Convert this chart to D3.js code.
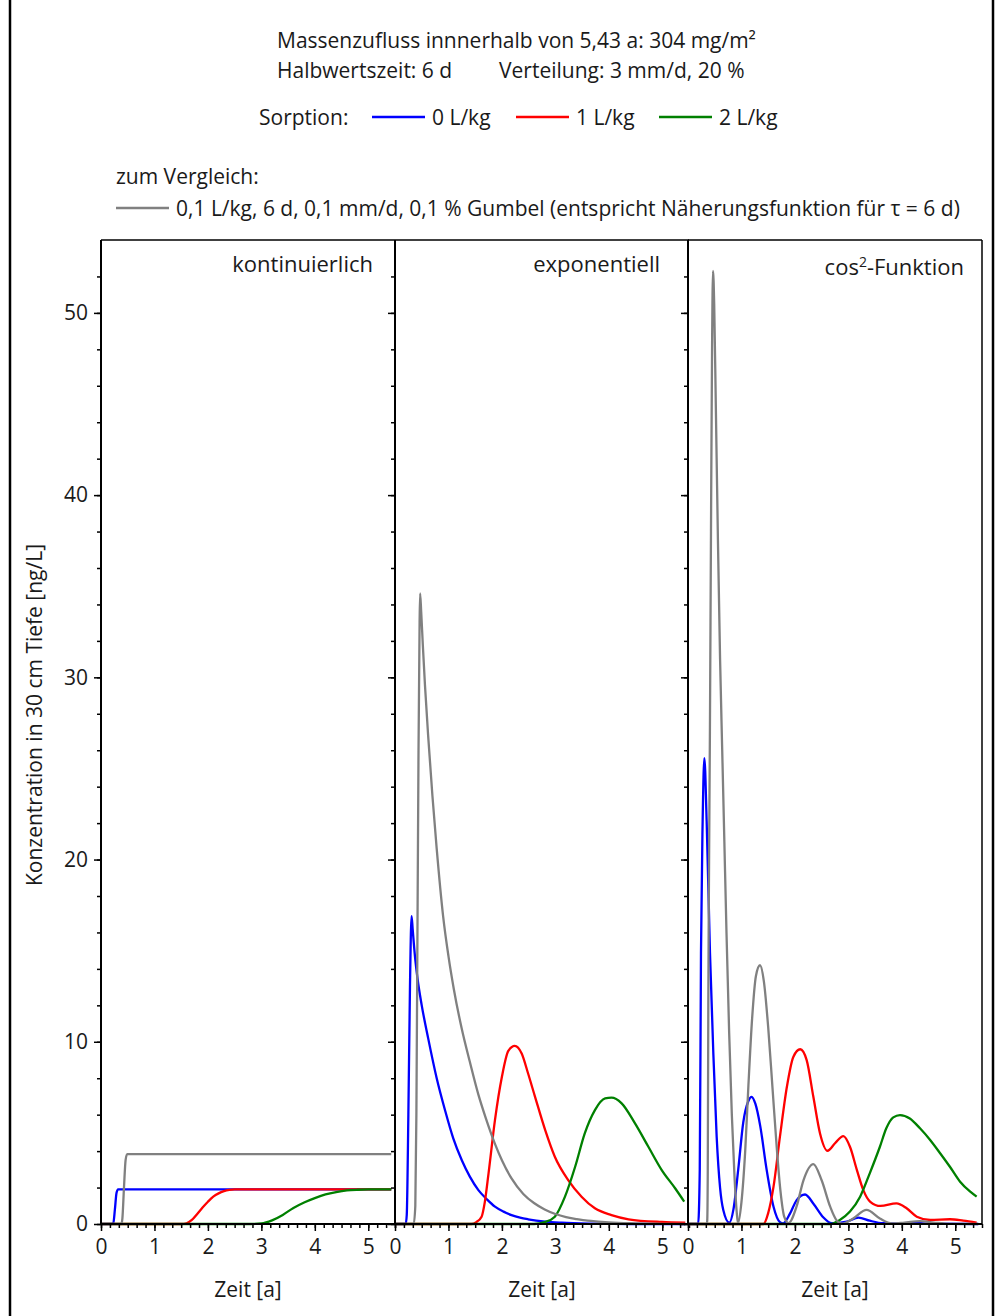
<!DOCTYPE html>
<html>
<head>
<meta charset="utf-8">
<script src="https://cdn.jsdelivr.net/npm/d3@7"></script>
<style>
  body { margin: 0; background: #fff; }
  svg text { font-family: "Open Sans", "Noto Sans", sans-serif; fill: #1a1a1a; }
</style>
</head>
<body>
<div id="chart"></div>
<script>
// Achsen
const xTicks = [0, 1, 2, 3, 4, 5];
const yTicks = [0, 10, 20, 30, 40, 50];
const panelTitles = ["kontinuierlich", "exponentiell", "cos²-Funktion"];
const legendLabels = ["0 L/kg", "1 L/kg", "2 L/kg"];

// kontinuierlich: [Zeit a, Konzentration ng/L]
const kontBlue = [[0, 0], [0.2, 0], [0.23, 0.05], [0.26, 0.8], [0.29, 1.7], [0.32, 1.9], [5.43, 1.9]];
const kontRed = [[0, 0], [1.5, 0], [1.6, 0.04], [1.7, 0.22], [1.8, 0.55], [1.9, 0.9], [2.0, 1.22], [2.1, 1.5],
  [2.2, 1.68], [2.3, 1.8], [2.4, 1.87], [2.5, 1.9], [5.43, 1.9]];
const kontGreen = [[0, 0], [2.8, 0], [3.0, 0.03], [3.2, 0.2], [3.4, 0.5], [3.6, 0.88], [3.8, 1.18], [4.0, 1.42],
  [4.2, 1.62], [4.4, 1.75], [4.6, 1.84], [4.8, 1.88], [5.0, 1.9], [5.43, 1.9]];
const kontGray = [[0, 0], [0.38, 0], [0.4, 0.3], [0.43, 2.0], [0.46, 3.5], [0.49, 3.84], [5.43, 3.84]];

// exponentiell
const expBlue = [[0, 0], [0.2, 0], [0.22, 0.5], [0.25, 6], [0.28, 13], [0.31, 16.9], [0.33, 16.2], [0.37, 14.8],
  [0.42, 13.5], [0.5, 12.0], [0.62, 10.2], [0.78, 8.0], [0.94, 6.2], [1.09, 4.7], [1.25, 3.5], [1.4, 2.6],
  [1.56, 1.86], [1.72, 1.35], [1.87, 0.95], [2.03, 0.68], [2.18, 0.49], [2.34, 0.35], [2.49, 0.26], [2.81, 0.13],
  [3.12, 0.07], [3.74, 0.02], [4.4, 0], [5.43, 0]];
const expRed = [[0, 0], [1.43, 0], [1.52, 0.1], [1.62, 0.4], [1.68, 1.2], [1.75, 2.78], [1.87, 5.7], [2.0, 8.08],
  [2.12, 9.5], [2.24, 9.78], [2.37, 9.36], [2.49, 8.26], [2.62, 6.98], [2.81, 5.15], [2.99, 3.69], [3.24, 2.41],
  [3.49, 1.5], [3.74, 0.86], [4.05, 0.49], [4.37, 0.26], [4.99, 0.11], [5.43, 0.07]];
const expGreen = [[0, 0], [2.6, 0], [2.8, 0.1], [2.99, 0.4], [3.18, 1.5], [3.37, 3.14], [3.55, 4.97], [3.74, 6.25],
  [3.93, 6.89], [4.05, 6.93], [4.24, 6.62], [4.49, 5.52], [4.74, 4.24], [4.99, 2.96], [5.24, 1.96], [5.41, 1.23]];
const expGray = [[0, 0], [0.35, 0], [0.38, 1], [0.4, 6], [0.42, 16], [0.44, 26], [0.46, 33], [0.47, 34.6],
  [0.49, 33.6], [0.52, 31.8], [0.56, 29.6], [0.62, 26.8], [0.7, 23.5], [0.78, 20.6], [0.9, 16.9], [1.0, 14.7],
  [1.1, 12.9], [1.25, 10.7], [1.4, 8.9], [1.56, 7.1], [1.7, 5.8], [1.87, 4.4], [2.0, 3.5], [2.18, 2.5],
  [2.4, 1.65], [2.6, 1.15], [2.8, 0.8], [3.0, 0.55], [3.2, 0.38], [3.4, 0.27], [3.6, 0.18], [3.8, 0.13],
  [4.0, 0.09], [4.4, 0.04], [5.0, 0.01], [5.43, 0]];

// cos²-Funktion
const cosBlue = [[0, 0], [0.19, 0], [0.22, 3], [0.243, 14.9], [0.274, 22.1], [0.306, 25.57], [0.349, 22.1],
  [0.411, 14.9], [0.474, 9.36], [0.536, 4.8], [0.6, 1.99], [0.66, 0.77], [0.773, 0.07], [0.85, 0.8], [0.94, 3.0],
  [1.035, 5.6], [1.13, 6.75], [1.19, 6.98], [1.26, 6.6], [1.35, 5.4], [1.47, 3.0], [1.6, 0.95], [1.72, 0.1],
  [1.78, 0.03], [1.91, 0.58], [2.03, 1.3], [2.19, 1.62], [2.35, 1.1], [2.53, 0.37], [2.69, 0.04], [2.97, 0.13],
  [3.19, 0.35], [3.4, 0.18], [3.65, 0.04], [3.9, 0.02], [4.2, 0.08], [4.5, 0.02], [5.43, 0]];
const cosRed = [[0, 0], [1.41, 0], [1.5, 0.6], [1.6, 2.05], [1.72, 4.79], [1.85, 7.53], [1.97, 9.17], [2.1, 9.59],
  [2.22, 8.99], [2.345, 6.98], [2.47, 4.97], [2.61, 4.02], [2.75, 4.43], [2.906, 4.82], [3.03, 4.24], [3.16, 2.96],
  [3.28, 1.86], [3.41, 1.22], [3.6, 0.99], [3.9, 1.13], [4.09, 0.86], [4.28, 0.4], [4.53, 0.22], [4.9, 0.26],
  [5.15, 0.18], [5.4, 0.07]];
const cosGreen = [[0, 0], [2.66, 0], [2.84, 0.22], [3.03, 0.68], [3.22, 1.5], [3.4, 2.78], [3.59, 4.24], [3.71, 5.25],
  [3.84, 5.85], [3.966, 5.98], [4.15, 5.79], [4.34, 5.25], [4.53, 4.61], [4.72, 3.87], [4.9, 3.14], [5.09, 2.32],
  [5.28, 1.77], [5.4, 1.5]];
const cosGray = [[0, 0], [0.35, 0], [0.36, 0.2], [0.37, 3], [0.38, 12], [0.39, 18], [0.41, 27], [0.43, 38],
  [0.45, 48], [0.468, 52.3], [0.49, 50.5], [0.52, 45], [0.56, 37.5], [0.6, 31], [0.64, 26], [0.68, 21], [0.72, 16],
  [0.77, 10.5], [0.82, 6], [0.87, 2.6], [0.91, 0.7], [0.935, 0.05], [1.0, 1.2], [1.07, 4.0], [1.13, 7.6],
  [1.2, 11.3], [1.27, 13.6], [1.347, 14.2], [1.42, 13.3], [1.5, 10.8], [1.58, 7.5], [1.66, 4.2], [1.73, 1.8],
  [1.8, 0.4], [1.88, 0.05], [2.03, 0.95], [2.16, 2.4], [2.345, 3.29], [2.5, 2.4], [2.66, 0.95], [2.78, 0.2],
  [2.88, 0.02], [3.09, 0.3], [3.34, 0.77], [3.59, 0.3], [3.81, 0.03], [4.05, 0.08], [4.34, 0.16], [4.6, 0.08],
  [4.9, 0.01], [5.43, 0]];

const panels = [
  { title: panelTitles[0], series: [kontBlue, kontRed, kontGreen, kontGray] },
  { title: panelTitles[1], series: [expBlue, expRed, expGreen, expGray] },
  { title: panelTitles[2], series: [cosBlue, cosRed, cosGreen, cosGray] }
];
const colors = ["#0000ff", "#ff0000", "#008000", "#808080"];

const width = 1004, height = 1316;
const svg = d3.select("#chart").append("svg")
  .attr("width", width)
  .attr("height", height);

// Rahmen
svg.append("rect")
  .attr("x", 10).attr("y", -2)
  .attr("width", 983).attr("height", height + 4)
  .attr("fill", "none").attr("stroke", "#000").attr("stroke-width", 2.5);

// Kopfzeilen
const head = svg.append("g").style("font-size", "21px");
head.append("text").attr("x", 277).attr("y", 48).text("Massenzufluss innnerhalb von 5,43 a: 304 mg/m²");
head.append("text").attr("x", 277).attr("y", 78).text("Halbwertszeit: 6 d");
head.append("text").attr("x", 499).attr("y", 78).text("Verteilung: 3 mm/d, 20 %");
head.append("text").attr("x", 259).attr("y", 125).text("Sorption:");

const legendX = [372, 516, 659];
legendLabels.forEach((lab, i) => {
  head.append("line")
    .attr("x1", legendX[i]).attr("x2", legendX[i] + 53)
    .attr("y1", 117).attr("y2", 117)
    .attr("stroke", colors[i]).attr("stroke-width", 2.3);
  head.append("text").attr("x", legendX[i] + 60).attr("y", 125).text(lab);
});

head.append("text").attr("x", 116).attr("y", 184).text("zum Vergleich:");
head.append("line")
  .attr("x1", 116).attr("x2", 169).attr("y1", 208).attr("y2", 208)
  .attr("stroke", colors[3]).attr("stroke-width", 2.3);
head.append("text").attr("x", 176).attr("y", 216)
  .text("0,1 L/kg, 6 d, 0,1 mm/d, 0,1 % Gumbel (entspricht Näherungsfunktion für τ = 6 d)");

// Diagramme
const panelLeft = [101, 395, 688];
const titleRight = [373, 660, 964];
const panelW = 294;
const plotTop = 240, plotBottom = 1224;

const y = d3.scaleLinear().domain([0, 54]).range([plotBottom, plotTop]);

panels.forEach((p, i) => {
  const x = d3.scaleLinear().domain([0, 5.5]).range([panelLeft[i], panelLeft[i] + panelW]);
  const g = svg.append("g");

  // Linien
  const line = d3.line()
    .x(d => x(d[0]))
    .y(d => y(d[1]))
    .curve(d3.curveMonotoneX);

  p.series.forEach((s, k) => {
    g.append("path")
      .datum(s)
      .attr("d", line)
      .attr("fill", "none")
      .attr("stroke", colors[k])
      .attr("stroke-width", 2.3)
      .attr("stroke-linejoin", "round");
  });

  // y-Achse
  const yMajor = d3.axisLeft(y).tickValues(yTicks).tickSize(7).tickPadding(6)
    .tickFormat(i === 0 ? d3.format("d") : "");
  const yMinor = d3.axisLeft(y).tickValues(d3.range(0, 54, 2)).tickSize(4).tickFormat("");
  [yMinor, yMajor].forEach(ax => {
    const a = g.append("g").attr("transform", `translate(${panelLeft[i]},0)`).call(ax);
    a.select(".domain").remove();
    a.selectAll("line").attr("stroke", "#000").attr("stroke-width", 1.5);
    a.selectAll("text").style("font-size", "21px").attr("font-family", null).attr("fill", "#1a1a1a");
  });

  // x-Achse
  const xMajor = d3.axisBottom(x).tickValues(xTicks).tickSize(7).tickPadding(8).tickFormat(d3.format("d"));
  const xMinor = d3.axisBottom(x).tickValues(d3.range(0, 34).map(k => k / 6)).tickSize(4).tickFormat("");
  [xMinor, xMajor].forEach(ax => {
    const a = g.append("g").attr("transform", `translate(0,${plotBottom})`).call(ax);
    a.select(".domain").remove();
    a.selectAll("line").attr("stroke", "#000").attr("stroke-width", 1.5);
    a.selectAll("text").style("font-size", "21px").attr("font-family", null).attr("fill", "#1a1a1a");
  });

  // Rahmenlinien
  g.append("line")
    .attr("x1", panelLeft[i]).attr("x2", panelLeft[i])
    .attr("y1", plotTop).attr("y2", plotBottom)
    .attr("stroke", "#000").attr("stroke-width", 2);
  g.append("line")
    .attr("x1", panelLeft[i]).attr("x2", panelLeft[i] + panelW)
    .attr("y1", plotTop).attr("y2", plotTop)
    .attr("stroke", "#000").attr("stroke-width", 1.5);
  g.append("line")
    .attr("x1", panelLeft[i]).attr("x2", panelLeft[i] + panelW)
    .attr("y1", plotBottom).attr("y2", plotBottom)
    .attr("stroke", "#000").attr("stroke-width", 2);

  // Titel
  const t = g.append("text")
    .attr("x", titleRight[i])
    .attr("y", i === 2 ? 275 : 272)
    .attr("text-anchor", "end")
    .style("font-size", "22px");
  if (i === 2) {
    t.append("tspan").text("cos");
    t.append("tspan").attr("dy", -8).style("font-size", "14px").text("2");
    t.append("tspan").attr("dy", 8).text("-Funktion");
  } else {
    t.text(p.title);
  }

  g.append("text")
    .attr("x", panelLeft[i] + panelW / 2)
    .attr("y", 1297)
    .attr("text-anchor", "middle")
    .style("font-size", "21px")
    .text("Zeit [a]");
});

// rechter Rand
svg.append("line")
  .attr("x1", panelLeft[2] + panelW).attr("x2", panelLeft[2] + panelW)
  .attr("y1", plotTop).attr("y2", plotBottom)
  .attr("stroke", "#000").attr("stroke-width", 1.5);

svg.append("text")
  .attr("transform", "translate(42,715) rotate(-90)")
  .attr("text-anchor", "middle")
  .style("font-size", "21px")
  .text("Konzentration in 30 cm Tiefe [ng/L]");
</script>
</body>
</html>
